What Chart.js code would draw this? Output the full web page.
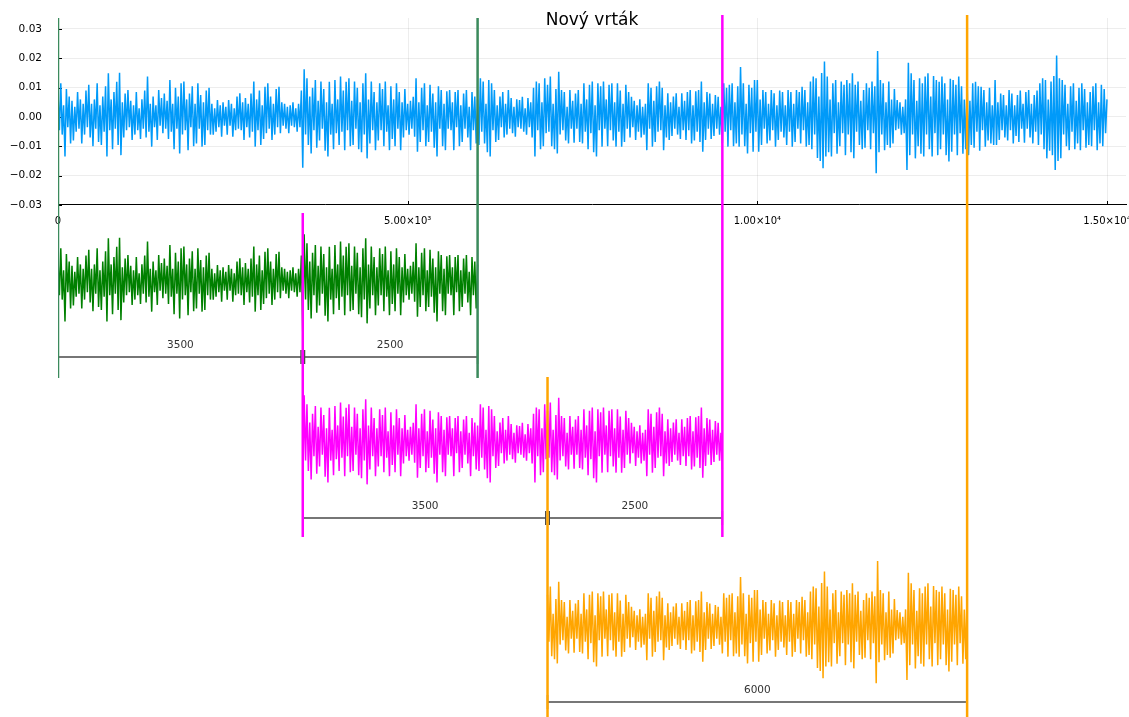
<!DOCTYPE html>
<html>
<head>
<meta charset="utf-8">
<title>Nový vrták</title>
<script src="https://cdn.jsdelivr.net/npm/chart.js@4.4.0/dist/chart.umd.min.js"></script>
<style>
  html, body { margin: 0; padding: 0; background: #fff; }
  #wrap { width: 1129px; height: 717px; }
</style>
</head>
<body>
<div id="wrap"><canvas id="chart" width="1129" height="717"></canvas></div>
<script>
const TITLE = 'Nový vrták';

// signal, one stored value every STEP samples, in units of 1e-4
const STEP = 20;
const SIGNAL_UNIT = 1e-4;
const SIGNAL = [
  80, -45, 115, -60, 40, -135, 95, -35, 70, -90,
  55, -80, 35, -50, 85, -40, 60, -90, 45, -60,
  90, -35, 110, -70, 45, -100, 60, -40, 115, -85,
  40, -95, 70, -50, 105, -135, 149, -45, 60, -110,
  85, -40, 120, -95, 151, -130, 50, -70, 80, -45,
  92, -35, 55, -78, 40, -60, 85, -45, 30, -75,
  60, -40, 90, -70, 138, -50, 45, -101, 70, -35,
  40, -78, 92, -30, 65, -55, 80, -40, 55, -75,
  126, -50, 45, -110, 100, -40, 70, -124, 115, -60,
  121, -45, 60, -113, 80, -35, 105, -100, 45, -90,
  115, -40, 75, -101, 50, -95, 90, -45, 100, -60,
  45, -60, 30, -50, 58, -35, 40, -67, 50, -30,
  35, -60, 58, -30, 45, -67, 30, -45, 70, -40,
  81, -45, 50, -78, 65, -35, 45, -70, 80, -50,
  121, -101, 60, -45, 90, -95, 40, -75, 103, -55,
  115, -40, 70, -78, 45, -60, 95, -35, 103, -55,
  50, -30, 45, -40, 35, -55, 40, -30, 50, -35,
  30, -50, 45, -35, 90, -173, 163, -60, 132, -95,
  70, -124, 100, -45, 126, -105, 55, -80, 121, -40,
  95, -115, 50, -135, 120, -60, 45, -110, 126, -55,
  60, -95, 138, -50, 90, -113, 120, -45, 132, -100,
  55, -95, 121, -40, 100, -110, 50, -120, 115, -60,
  149, -141, 60, -90, 121, -45, 85, -113, 50, -80,
  115, -45, 95, -100, 121, -50, 40, -113, 105, -75,
  60, -100, 115, -40, 85, -113, 50, -70, 95, -45,
  45, -60, 55, -40, 69, -67, 132, -118, 50, -85,
  100, -45, 115, -100, 40, -85, 110, -50, 80, -105,
  50, -135, 105, -40, 92, -100, 45, -113, 88, -40,
  92, -45, 50, -113, 85, -35, 92, -100, 40, -85,
  80, -40, 92, -70, 35, -113, 85, -45, 70, -90,
  60, -95, 132, -50, 121, -90, 45, -120, 126, -135,
  115, -45, 92, -85, 40, -78, 70, -35, 85, -70,
  45, -60, 92, -40, 65, -55, 35, -67, 60, -35,
  58, -40, 69, -50, 30, -60, 65, -35, 50, -70,
  100, -135, 121, -45, 115, -110, 50, -100, 132, -55,
  110, -50, 138, -100, 45, -110, 95, -124, 154, -60,
  92, -45, 85, -80, 35, -90, 92, -40, 55, -88,
  80, -40, 92, -85, 45, -90, 115, -50, 60, -110,
  110, -55, 121, -120, 40, -135, 115, -45, 105, -101,
  121, -40, 60, -100, 110, -45, 115, -80, 50, -101,
  115, -50, 90, -101, 45, -85, 110, -40, 85, -70,
  69, -35, 55, -78, 40, -50, 60, -70, 35, -60,
  45, -113, 115, -40, 100, -101, 55, -85, 105, -50,
  121, -45, 100, -113, 40, -70, 81, -78, 50, -65,
  70, -40, 81, -60, 35, -75, 81, -45, 55, -78,
  85, -45, 92, -90, 40, -80, 88, -50, 92, -85,
  121, -118, 50, -78, 85, -40, 80, -75, 45, -65,
  75, -40, 69, -60, 35, -90, 115, -50, 100, -101,
  110, -45, 115, -100, 50, -90, 105, -101, 170, -60,
  115, -100, 45, -124, 110, -55, 100, -118, 126, -50,
  126, -118, 60, -95, 92, -40, 85, -90, 45, -80,
  92, -45, 81, -101, 40, -78, 90, -50, 85, -70,
  40, -95, 92, -50, 85, -101, 45, -85, 92, -40,
  85, -90, 103, -45, 92, -101, 50, -95, 121, -110,
  138, -60, 132, -140, 70, -150, 150, -175, 189, -135,
  138, -120, 60, -135, 115, -55, 126, -125, 50, -100,
  121, -55, 110, -130, 126, -60, 115, -120, 149, -141,
  110, -50, 121, -95, 55, -110, 92, -105, 115, -45,
  100, -110, 121, -55, 105, -192, 225, -120, 126, -60,
  115, -113, 50, -95, 121, -105, 60, -90, 95, -45,
  58, -40, 50, -60, 35, -55, 60, -181, 185, -130,
  149, -60, 126, -141, 55, -100, 132, -125, 115, -135,
  138, -60, 149, -110, 70, -135, 140, -55, 126, -130,
  120, -110, 138, -60, 115, -130, 60, -152, 130, -118,
  126, -60, 110, -130, 138, -55, 105, -125, 60, -110,
  126, -130, 55, -95, 115, -105, 120, -50, 105, -115,
  103, -45, 92, -101, 50, -80, 100, -90, 40, -95,
  126, -95, 50, -78, 80, -45, 75, -70, 40, -80,
  92, -45, 80, -90, 40, -65, 75, -85, 90, -40,
  45, -88, 85, -40, 92, -70, 45, -90, 75, -50,
  90, -95, 115, -60, 132, -110, 126, -141, 60, -115,
  121, -130, 140, -181, 210, -150, 132, -141, 126, -60,
  110, -100, 45, -113, 105, -50, 115, -110, 55, -90,
  100, -113, 115, -45, 95, -105, 50, -95, 85, -100,
  105, -45, 115, -113, 50, -90, 110, -100, 95, -55,
  60
];

const Y_TICKS = [-0.03, -0.02, -0.01, 0, 0.01, 0.02, 0.03];
const X_TICKS = [0, 5000, 10000, 15000];
const X_TICK_LABELS = ['0', '5.00×10³', '1.00×10⁴', '1.50×10⁴'];

// the three cut-out windows (sample ranges) and where each is split
const WINDOW_STARTS = [0, 3500, 7000];
const WINDOW_SPLITS = [3500, 7000, null];
const WINDOW_ENDS = [6000, 9500, 13000];
const WINDOW_COLORS = ['#008000', '#ff00ff', '#ffa500'];
const MARKER_COLORS = ['#3b8a5c', '#ff00ff', '#ffa500'];

// ---- layout (in y-axis units, the whole canvas shares one y scale) ----
const Y_MIN = -0.204545;
const Y_MAX = 0.039886;
const X_MAX = 15272;
const PANEL_SHIFT = [0.05625, 0.111136, 0.173864];
const DIM_DROP = 0.02557;
const END_TOP = [0.03375, 0.03477, 0.03477];
const START_TOP = [0.03375, -0.03273, -0.08864];
const LINE_BOTTOM = [-0.08898, -0.14318, Y_MIN];
const DIM_GAP = 25;
const SIGNAL_WIDTH = 1.5;
const FONT = '"DejaVu Sans", "Liberation Sans", sans-serif';

const points = (from, to, shift) => {
  const out = [];
  for (let i = from / STEP; i <= to / STEP; i++) {
    out.push({ x: i * STEP, y: SIGNAL[i] * SIGNAL_UNIT - shift });
  }
  return out;
};

const datasets = [];

// vertical window markers (drawn on top)
WINDOW_STARTS.forEach((start, k) => {
  [[start, START_TOP[k]], [WINDOW_ENDS[k], END_TOP[k]]].forEach(([x, top]) => {
    datasets.push({
      data: [{ x: x, y: top }, { x: x, y: LINE_BOTTOM[k] }],
      borderColor: MARKER_COLORS[k],
      borderWidth: 2.5,
      pointRadius: 0,
      order: 0
    });
  });
});

// dimension lines under each window
const dimLabels = [];
WINDOW_STARTS.forEach((start, k) => {
  const y = -PANEL_SHIFT[k] - DIM_DROP;
  const cuts = WINDOW_SPLITS[k] === null ? [start, WINDOW_ENDS[k]] : [start, WINDOW_SPLITS[k], WINDOW_ENDS[k]];
  const data = [];
  for (let s = 0; s < cuts.length - 1; s++) {
    const a = cuts[s] + (s > 0 ? DIM_GAP : 0);
    const b = cuts[s + 1] - (s < cuts.length - 2 ? DIM_GAP : 0);
    if (s > 0) data.push({ x: cuts[s], y: null });
    data.push({ x: a, y: y }, { x: b, y: y });
    dimLabels.push({ x: (cuts[s] + cuts[s + 1]) / 2, y: y, text: String(cuts[s + 1] - cuts[s]) });
  }
  datasets.push({
    data: data,
    borderColor: '#4a4a4a',
    borderWidth: 1.5,
    pointStyle: 'line',
    rotation: 90,
    pointRadius: 7,
    pointBorderColor: '#4a4a4a',
    pointBorderWidth: 1.5,
    spanGaps: false,
    order: 1
  });
});

// window signals
WINDOW_STARTS.forEach((start, k) => {
  datasets.push({
    data: points(start, WINDOW_ENDS[k], PANEL_SHIFT[k]),
    borderColor: WINDOW_COLORS[k],
    borderWidth: SIGNAL_WIDTH,
    pointRadius: 0,
    order: 2
  });
});

// full signal
datasets.push({
  data: points(0, 15000, 0),
  borderColor: '#009af9',
  borderWidth: SIGNAL_WIDTH,
  pointRadius: 0,
  order: 3
});

const decorPlugin = {
  id: 'decor',
  beforeDatasetsDraw(chart) {
    const { ctx, scales: { x, y } } = chart;
    ctx.save();
    // vertical grid of the top panel
    ctx.strokeStyle = 'rgba(0,0,0,0.07)';
    ctx.lineWidth = 1;
    X_TICKS.forEach(v => {
      const px = Math.round(x.getPixelForValue(v)) + 0.5;
      ctx.beginPath();
      ctx.moveTo(px, y.getPixelForValue(END_TOP[0]));
      ctx.lineTo(px, y.getPixelForValue(-0.03));
      ctx.stroke();
    });
    // small inward tick marks
    ctx.strokeStyle = '#000';
    const axisY = y.getPixelForValue(-0.03);
    X_TICKS.forEach(v => {
      const px = Math.round(x.getPixelForValue(v)) + 0.5;
      ctx.beginPath();
      ctx.moveTo(px, axisY);
      ctx.lineTo(px, axisY - 4);
      ctx.stroke();
    });
    const left = x.getPixelForValue(0);
    Y_TICKS.forEach(v => {
      const py = Math.round(y.getPixelForValue(v)) + 0.5;
      ctx.beginPath();
      ctx.moveTo(left, py);
      ctx.lineTo(left + 4, py);
      ctx.stroke();
    });
    ctx.restore();
  },
  afterDraw(chart) {
    const { ctx, chartArea, scales: { x, y } } = chart;
    ctx.save();
    ctx.fillStyle = '#333';
    ctx.font = '10.5px ' + FONT;
    ctx.textAlign = 'center';
    ctx.textBaseline = 'middle';
    dimLabels.forEach(l => {
      ctx.fillText(l.text, x.getPixelForValue(l.x), y.getPixelForValue(l.y) - 11.5);
    });
    ctx.fillStyle = '#000';
    ctx.font = '17px ' + FONT;
    ctx.fillText(TITLE, (chartArea.left + chartArea.right) / 2, 21);
    ctx.restore();
  }
};

const fmtY = v => (v === 0 ? '0.00' : (v < 0 ? '\u2212' : '') + Math.abs(v).toFixed(2));

new Chart(document.getElementById('chart'), {
  type: 'line',
  data: { datasets: datasets },
  options: {
    responsive: false,
    animation: false,
    parsing: false,
    normalized: true,
    layout: { autoPadding: false, padding: { left: 0, right: 3, top: 0, bottom: 0 } },
    plugins: { legend: { display: false }, tooltip: { enabled: false }, title: { display: false } },
    scales: {
      x: {
        type: 'linear',
        min: 0,
        max: X_MAX,
        position: { y: -0.03 },
        afterBuildTicks: s => { s.ticks = X_TICKS.map(v => ({ value: v })); },
        afterFit: s => { s.paddingLeft = 0; s.paddingRight = 0; },
        grid: { display: false, drawTicks: false },
        border: { display: true, color: '#000', width: 1 },
        ticks: {
          autoSkip: false,
          maxRotation: 0,
          padding: 10,
          color: '#000',
          font: { family: FONT, size: 10 },
          callback: (v, i) => X_TICK_LABELS[i]
        }
      },
      y: {
        type: 'linear',
        min: Y_MIN,
        max: Y_MAX,
        afterBuildTicks: s => { s.ticks = Y_TICKS.map(v => ({ value: v })); },
        afterFit: s => { s.width = 58; s.paddingTop = 0; s.paddingBottom = 0; },
        grid: { color: 'rgba(0,0,0,0.07)', lineWidth: 1, drawTicks: false },
        border: { display: false },
        ticks: {
          autoSkip: false,
          padding: 16,
          color: '#000',
          font: { family: FONT, size: 10.5 },
          callback: v => fmtY(v)
        }
      }
    }
  },
  plugins: [decorPlugin]
});
</script>
</body>
</html>
